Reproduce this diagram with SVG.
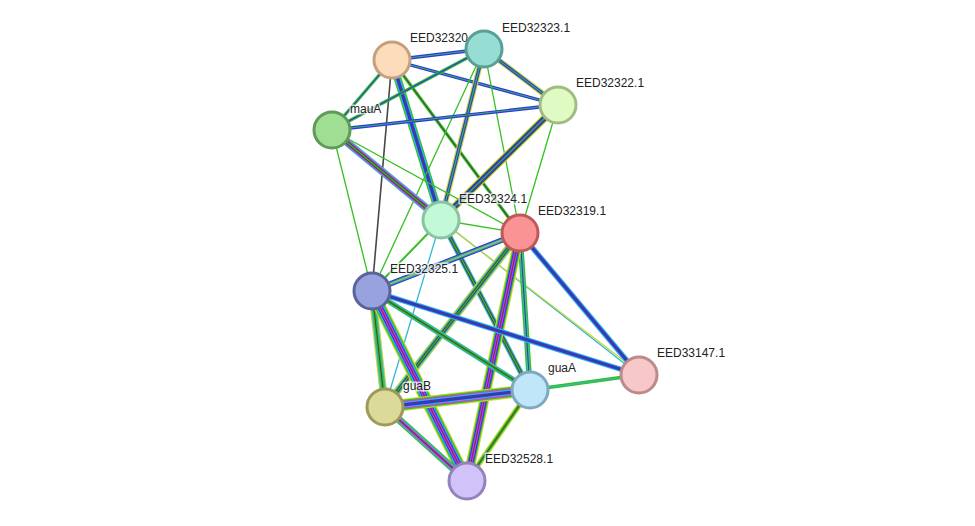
<svg xmlns="http://www.w3.org/2000/svg" width="975" height="526" viewBox="0 0 975 526">
<style>
.g{stroke:#33c020}.b{stroke:#3030ff}.k{stroke:#484848}.c{stroke:#30b8d8}.m{stroke:#e030e0}.y{stroke:#c8d830}.l{stroke:#a8a8ff}
.n circle{stroke-width:3}
text{font-family:"Liberation Sans",Arial,sans-serif;font-size:12px;fill:#222;stroke:#fff;stroke-width:3;paint-order:stroke;stroke-opacity:0.7}
</style>
<rect width="975" height="526" fill="#fff"/>
<g id="edges" fill="none">
<line x1="392" y1="60" x2="484" y2="49" class="b" stroke-width="3.3"/><line x1="392" y1="60" x2="484" y2="49" class="g" stroke-width="1.1"/>
<line x1="392" y1="60" x2="558" y2="105" class="b" stroke-width="3.3"/><line x1="392" y1="60" x2="558" y2="105" class="g" stroke-width="1.1"/>
<line x1="392" y1="60" x2="332" y2="130" class="g" stroke-width="3.3"/><line x1="392" y1="60" x2="332" y2="130" class="b" stroke-width="1.1"/>
<line x1="392" y1="60" x2="441" y2="220" class="g" stroke-width="7.7"/><line x1="392" y1="60" x2="441" y2="220" class="c" stroke-width="5.5"/><line x1="392" y1="60" x2="441" y2="220" class="b" stroke-width="3.3"/><line x1="392" y1="60" x2="441" y2="220" class="k" stroke-width="1.1"/>
<line x1="392" y1="60" x2="520" y2="233" class="g" stroke-width="3.3"/><line x1="392" y1="60" x2="520" y2="233" class="k" stroke-width="1.1"/>
<line x1="392" y1="60" x2="372" y2="291" class="k" stroke-width="1.6"/>
<line x1="484" y1="49" x2="558" y2="105" class="y" stroke-width="5.5"/><line x1="484" y1="49" x2="558" y2="105" class="b" stroke-width="3.3"/><line x1="484" y1="49" x2="558" y2="105" class="g" stroke-width="1.1"/>
<line x1="484" y1="49" x2="332" y2="130" class="g" stroke-width="3.3"/><line x1="484" y1="49" x2="332" y2="130" class="b" stroke-width="1.1"/>
<line x1="484" y1="49" x2="441" y2="220" class="y" stroke-width="5.5"/><line x1="484" y1="49" x2="441" y2="220" class="b" stroke-width="3.3"/><line x1="484" y1="49" x2="441" y2="220" class="g" stroke-width="1.1"/>
<line x1="484" y1="49" x2="520" y2="233" class="g" stroke-width="1.3"/>
<line x1="484" y1="49" x2="372" y2="291" class="g" stroke-width="1.3"/>
<line x1="558" y1="105" x2="332" y2="130" class="b" stroke-width="3.3"/><line x1="558" y1="105" x2="332" y2="130" class="g" stroke-width="1.1"/>
<line x1="558" y1="105" x2="441" y2="220" class="y" stroke-width="7.7"/><line x1="558" y1="105" x2="441" y2="220" class="k" stroke-width="5.5"/><line x1="558" y1="105" x2="441" y2="220" class="b" stroke-width="3.3"/><line x1="558" y1="105" x2="441" y2="220" class="g" stroke-width="1.1"/>
<line x1="558" y1="105" x2="520" y2="233" class="g" stroke-width="1.3"/>
<line x1="332" y1="130" x2="441" y2="220" class="c" stroke-width="7.7"/><line x1="332" y1="130" x2="441" y2="220" class="m" stroke-width="5.5"/><line x1="332" y1="130" x2="441" y2="220" class="k" stroke-width="3.3"/><line x1="332" y1="130" x2="441" y2="220" class="g" stroke-width="1.1"/>
<line x1="332" y1="130" x2="520" y2="233" class="g" stroke-width="1.3"/>
<line x1="332" y1="130" x2="372" y2="291" class="g" stroke-width="1.3"/>
<line x1="441" y1="220" x2="520" y2="233" class="g" stroke-width="1.3"/>
<line x1="441" y1="220" x2="372" y2="291" class="g" stroke-width="2"/>
<line x1="441" y1="220" x2="530" y2="390" class="c" stroke-width="5.5"/><line x1="441" y1="220" x2="530" y2="390" class="k" stroke-width="3.3"/><line x1="441" y1="220" x2="530" y2="390" class="g" stroke-width="1.1"/>
<line x1="441" y1="220" x2="385" y2="407" class="c" stroke-width="1.3"/>
<line x1="441" y1="220" x2="639" y2="375" class="c" stroke-width="1.3"/>
<line x1="448" y1="226" x2="636" y2="370" class="y" stroke-width="1.3"/>
<line x1="520" y1="233" x2="372" y2="291" class="b" stroke-width="5.5"/><line x1="520" y1="233" x2="372" y2="291" class="g" stroke-width="3.3"/><line x1="520" y1="233" x2="372" y2="291" class="l" stroke-width="1.1"/>
<line x1="520" y1="233" x2="385" y2="407" class="y" stroke-width="7.7"/><line x1="520" y1="233" x2="385" y2="407" class="c" stroke-width="5.5"/><line x1="520" y1="233" x2="385" y2="407" class="k" stroke-width="3.3"/><line x1="520" y1="233" x2="385" y2="407" class="g" stroke-width="1.1"/>
<line x1="520" y1="233" x2="530" y2="390" class="g" stroke-width="5.5"/><line x1="520" y1="233" x2="530" y2="390" class="c" stroke-width="3.3"/><line x1="520" y1="233" x2="530" y2="390" class="k" stroke-width="1.1"/>
<line x1="520" y1="233" x2="467" y2="481" class="y" stroke-width="9.9"/><line x1="520" y1="233" x2="467" y2="481" class="g" stroke-width="7.7"/><line x1="520" y1="233" x2="467" y2="481" class="b" stroke-width="5.5"/><line x1="520" y1="233" x2="467" y2="481" class="m" stroke-width="3.3"/><line x1="520" y1="233" x2="467" y2="481" class="k" stroke-width="1.1"/>
<line x1="520" y1="233" x2="639" y2="375" class="c" stroke-width="5.5"/><line x1="520" y1="233" x2="639" y2="375" class="b" stroke-width="3.3"/><line x1="520" y1="233" x2="639" y2="375" class="k" stroke-width="1.1"/>
<line x1="372" y1="291" x2="385" y2="407" class="y" stroke-width="7.7"/><line x1="372" y1="291" x2="385" y2="407" class="c" stroke-width="5.5"/><line x1="372" y1="291" x2="385" y2="407" class="g" stroke-width="3.3"/><line x1="372" y1="291" x2="385" y2="407" class="k" stroke-width="1.1"/>
<line x1="372" y1="291" x2="467" y2="481" class="y" stroke-width="12.1"/><line x1="372" y1="291" x2="467" y2="481" class="g" stroke-width="9.9"/><line x1="372" y1="291" x2="467" y2="481" class="c" stroke-width="7.7"/><line x1="372" y1="291" x2="467" y2="481" class="b" stroke-width="5.5"/><line x1="372" y1="291" x2="467" y2="481" class="m" stroke-width="3.3"/><line x1="372" y1="291" x2="467" y2="481" class="k" stroke-width="1.1"/>
<line x1="372" y1="291" x2="530" y2="390" class="c" stroke-width="5.5"/><line x1="372" y1="291" x2="530" y2="390" class="g" stroke-width="3.3"/><line x1="372" y1="291" x2="530" y2="390" class="k" stroke-width="1.1"/>
<line x1="372" y1="291" x2="639" y2="375" class="c" stroke-width="5.5"/><line x1="372" y1="291" x2="639" y2="375" class="b" stroke-width="3.3"/><line x1="372" y1="291" x2="639" y2="375" class="k" stroke-width="1.1"/>
<line x1="385" y1="407" x2="530" y2="390" class="y" stroke-width="12.1"/><line x1="385" y1="407" x2="530" y2="390" class="g" stroke-width="9.9"/><line x1="385" y1="407" x2="530" y2="390" class="m" stroke-width="7.7"/><line x1="385" y1="407" x2="530" y2="390" class="c" stroke-width="5.5"/><line x1="385" y1="407" x2="530" y2="390" class="b" stroke-width="3.3"/><line x1="385" y1="407" x2="530" y2="390" class="k" stroke-width="1.1"/>
<line x1="385" y1="407" x2="467" y2="481" class="g" stroke-width="7.7"/><line x1="385" y1="407" x2="467" y2="481" class="c" stroke-width="5.5"/><line x1="385" y1="407" x2="467" y2="481" class="m" stroke-width="3.3"/><line x1="385" y1="407" x2="467" y2="481" class="k" stroke-width="1.1"/>
<line x1="530" y1="390" x2="467" y2="481" class="y" stroke-width="5.5"/><line x1="530" y1="390" x2="467" y2="481" class="g" stroke-width="3.3"/><line x1="530" y1="390" x2="467" y2="481" class="k" stroke-width="1.1"/>
<line x1="530" y1="390" x2="639" y2="375" class="g" stroke-width="3.3"/><line x1="530" y1="390" x2="639" y2="375" class="c" stroke-width="1.1"/>
</g>
<g id="n-EED32320" class="n"><circle cx="392" cy="60" r="18" fill="#fddcbc" stroke="#c4a07e"/><text x="410" y="42">EED32320</text></g>
<g id="n-EED32323.1" class="n"><circle cx="484" cy="49" r="18" fill="#96ded4" stroke="#5a9e96"/><text x="502" y="32">EED32323.1</text></g>
<g id="n-EED32322.1" class="n"><circle cx="558" cy="105" r="18" fill="#e0fac4" stroke="#a0bc80"/><text x="576" y="87">EED32322.1</text></g>
<g id="n-mauA" class="n"><circle cx="332" cy="130" r="18" fill="#a0de94" stroke="#5e9a58"/><text x="350" y="113">mauA</text></g>
<g id="n-EED32324.1" class="n"><circle cx="441" cy="220" r="18" fill="#c2fad8" stroke="#88c4a2"/><text x="459" y="203">EED32324.1</text></g>
<g id="n-EED32319.1" class="n"><circle cx="520" cy="233" r="18" fill="#fa9494" stroke="#c05858"/><text x="538" y="215">EED32319.1</text></g>
<g id="n-EED32325.1" class="n"><circle cx="372" cy="291" r="18" fill="#98a2de" stroke="#5a6498"/><text x="390" y="273">EED32325.1</text></g>
<g id="n-EED33147.1" class="n"><circle cx="639" cy="375" r="18" fill="#f6c8c8" stroke="#bc8a8a"/><text x="657" y="357">EED33147.1</text></g>
<g id="n-guaA" class="n"><circle cx="530" cy="390" r="18" fill="#c0e6fa" stroke="#80a8c0"/><text x="548" y="372">guaA</text></g>
<g id="n-guaB" class="n"><circle cx="385" cy="407" r="18" fill="#dcda98" stroke="#9c9a58"/><text x="403" y="390">guaB</text></g>
<g id="n-EED32528.1" class="n"><circle cx="467" cy="481" r="18" fill="#d2c2fa" stroke="#9482bc"/><text x="485" y="463">EED32528.1</text></g>
</svg>
